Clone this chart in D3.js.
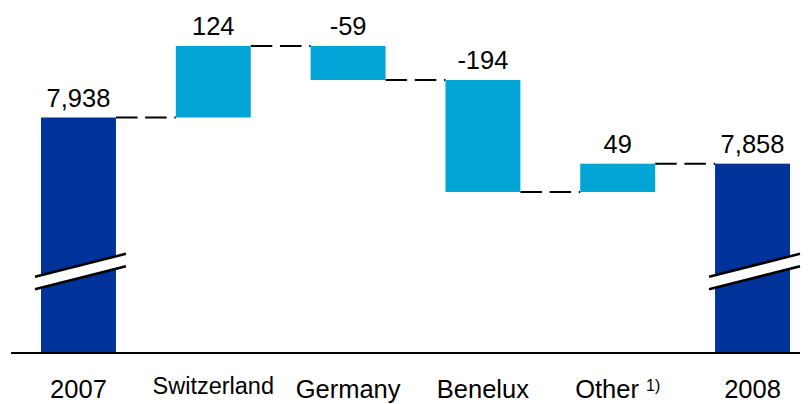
<!DOCTYPE html>
<html>
<head>
<meta charset="utf-8">
<script src="https://cdn.jsdelivr.net/npm/d3@7"></script>
<style>
  html, body { margin: 0; padding: 0; background: #fff; }
  svg { display: block; font-family: "Liberation Sans", Arial, Helvetica, sans-serif; }
</style>
</head>
<body>
<svg id="chart" width="810" height="404"></svg>
<script>
// Waterfall: totals 2007 -> 2008 with regional changes
const categories  = ["2007", "Switzerland", "Germany", "Benelux", "Other", "2008"];
const values      = [7938, 124, -59, -194, 49, 7858];
const kinds       = ["total", "change", "change", "change", "change", "total"];
const valueLabels = ["7,938", "124", "-59", "-194", "49", "7,858"];
const footnotes   = ["", "", "", "", "1)", ""];

// layout
const baseY = 353;
const axisX = [11, 800];
const labelSize  = [25.5, 23.5, 25.5, 25.5, 25.5, 25.5];
const labelBase  = [398, 394, 398, 398, 398, 398];
const colTotal = "#003399", colChange = "#00A5D5";
const breakLevel = 7682;   // axis break drawn across the total bars

const svg = d3.select("#chart");

const x = d3.scaleBand().domain(categories).range([41, 790]).paddingInner(0.444).paddingOuter(0);
const y = d3.scaleLinear().domain([7530, 8100]).range([baseY, 24]);

// running totals for floating bars
let run = 0;
const bars = categories.map((c, i) => {
  let lo, hi, end;
  if (kinds[i] === "total") {
    run = values[i];
    lo = y.domain()[0]; hi = run; end = run;
  } else {
    const start = run;
    run = run + values[i];
    lo = Math.min(start, run); hi = Math.max(start, run); end = run;
  }
  return { c, i, lo, hi, end, kind: kinds[i] };
});

// connectors
const conn = svg.append("g");
bars.slice(0, -1).forEach((b, i) => {
  const yy = y(b.end);
  conn.append("line")
    .attr("x1", x(b.c) + x.bandwidth()).attr("x2", x(categories[i + 1]))
    .attr("y1", yy).attr("y2", yy)
    .attr("stroke", "#000").attr("stroke-width", 2)
    .attr("stroke-dasharray", "21.5,7.7");
});

// bars
svg.append("g").selectAll("rect").data(bars).join("rect")
  .attr("x", d => x(d.c))
  .attr("width", x.bandwidth())
  .attr("y", d => y(d.hi))
  .attr("height", d => y(d.lo) - y(d.hi))
  .attr("fill", d => d.kind === "total" ? colTotal : colChange);

// axis break marks on the total bars
const by = y(breakLevel);
bars.filter(d => d.kind === "total").forEach(d => {
  const xl = x(d.c) - 6, xr = x(d.c) + x.bandwidth() + 10;
  const rise = 23, gap = 12.5;
  const g = svg.append("g");
  g.append("polygon")
    .attr("points", [[xl, by + rise / 2], [xr, by - rise / 2], [xr, by - rise / 2 + gap], [xl, by + rise / 2 + gap]].map(p => p.join(",")).join(" "))
    .attr("fill", "#fff");
  g.append("line").attr("x1", xl).attr("y1", by + rise / 2).attr("x2", xr).attr("y2", by - rise / 2)
    .attr("stroke", "#000").attr("stroke-width", 2.5);
  g.append("line").attr("x1", xl).attr("y1", by + rise / 2 + gap).attr("x2", xr).attr("y2", by - rise / 2 + gap)
    .attr("stroke", "#000").attr("stroke-width", 2.5);
});

// baseline
svg.append("line")
  .attr("x1", axisX[0]).attr("x2", axisX[1]).attr("y1", baseY).attr("y2", baseY)
  .attr("stroke", "#000").attr("stroke-width", 2);

// value labels
svg.append("g").selectAll("text").data(bars).join("text")
  .attr("x", d => x(d.c) + x.bandwidth() / 2)
  .attr("y", d => y(d.hi) - 11)
  .attr("text-anchor", "middle")
  .attr("font-size", 25.5)
  .attr("fill", "#000")
  .text(d => valueLabels[d.i]);

// category labels (centred on the bar, footnote marker included)
const cat = svg.append("g").selectAll("text").data(bars).join("text")
  .attr("x", d => x(d.c) + x.bandwidth() / 2)
  .attr("y", d => labelBase[d.i])
  .attr("text-anchor", "middle")
  .attr("font-size", d => labelSize[d.i])
  .attr("fill", "#000");
cat.append("tspan").text(d => d.c);
cat.filter(d => footnotes[d.i]).append("tspan")
  .attr("font-size", 16).attr("dx", 7).attr("dy", -7)
  .text(d => footnotes[d.i]);
</script>
</body>
</html>
